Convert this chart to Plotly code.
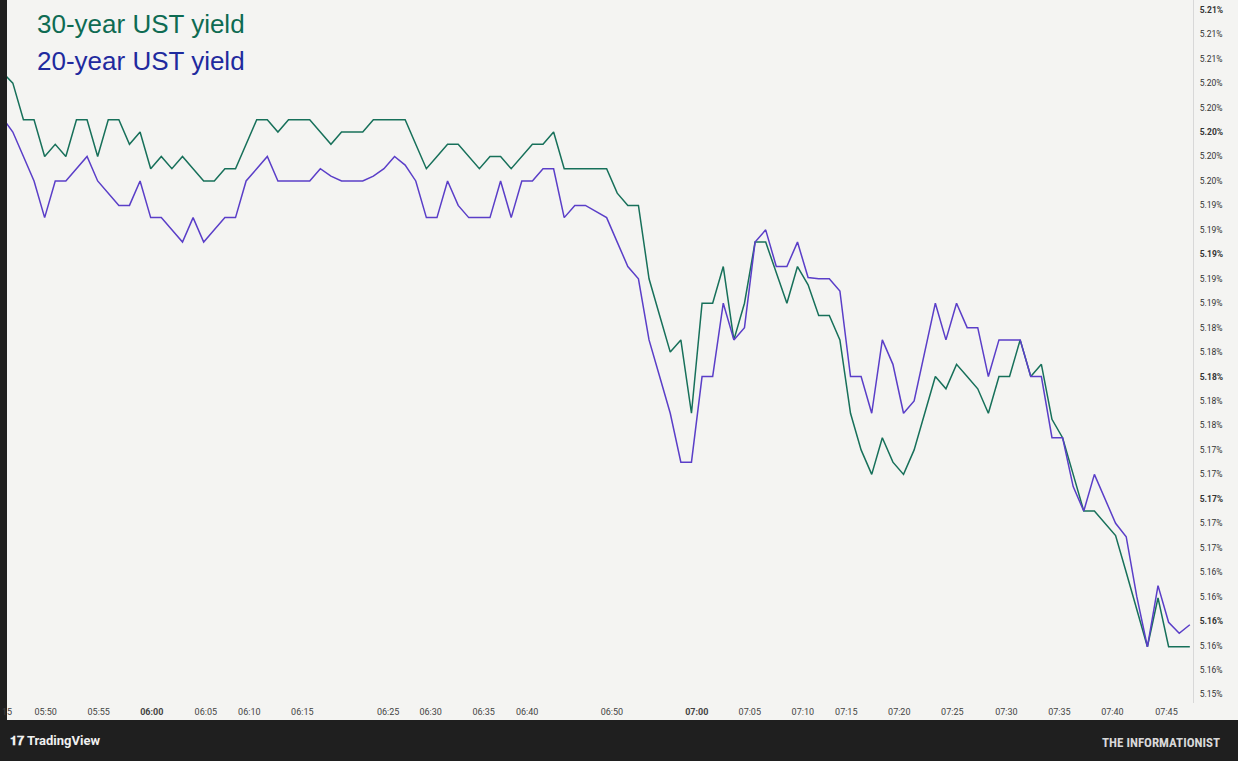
import plotly.graph_objects as go

bars = list(range(113))
ust30 = [5.2049,5.2040,5.2010,5.2010,5.1980,5.1990,5.1980,5.2010,5.2010,5.1980,
         5.2010,5.2010,5.1990,5.2000,5.1970,5.1980,5.1970,5.1980,5.1970,5.1960,
         5.1960,5.1970,5.1970,5.1990,5.2010,5.2010,5.2000,5.2010,5.2010,5.2010,
         5.2000,5.1990,5.2000,5.2000,5.2000,5.2010,5.2010,5.2010,5.2010,5.1990,
         5.1970,5.1980,5.1990,5.1990,5.1980,5.1970,5.1980,5.1980,5.1970,5.1980,
         5.1990,5.1990,5.2000,5.1970,5.1970,5.1970,5.1970,5.1970,5.1950,5.1940,
         5.1940,5.1880,5.1850,5.1820,5.1830,5.1770,5.1860,5.1860,5.1890,5.1830,
         5.1860,5.1910,5.1910,5.1885,5.1860,5.1890,5.1875,5.1850,5.1850,5.1830,
         5.1770,5.1740,5.1720,5.1750,5.1730,5.1720,5.1740,5.1770,5.1800,5.1790,
         5.1810,5.1800,5.1790,5.1770,5.1800,5.1800,5.1830,5.1800,5.1810,5.1765,
         5.1750,5.1720,5.1690,5.1690,5.1680,5.1670,5.1640,5.1609,5.1579,5.1619,
         5.1579,5.1579,5.1579]
ust20 = [5.2012,5.2000,5.1980,5.1960,5.1930,5.1960,5.1960,5.1970,5.1980,5.1960,
         5.1950,5.1940,5.1940,5.1960,5.1930,5.1930,5.1920,5.1910,5.1930,5.1910,
         5.1920,5.1930,5.1930,5.1960,5.1970,5.1980,5.1960,5.1960,5.1960,5.1960,
         5.1970,5.1964,5.1960,5.1960,5.1960,5.1964,5.1970,5.1980,5.1973,5.1960,
         5.1930,5.1930,5.1960,5.1940,5.1930,5.1930,5.1930,5.1960,5.1930,5.1960,
         5.1960,5.1970,5.1970,5.1930,5.1940,5.1940,5.1935,5.1930,5.1910,5.1890,
         5.1880,5.1830,5.1800,5.1770,5.1730,5.1730,5.1800,5.1800,5.1860,5.1830,
         5.1840,5.1910,5.1920,5.1890,5.1890,5.1910,5.1881,5.1880,5.1880,5.1870,
         5.1800,5.1800,5.1770,5.1830,5.1810,5.1770,5.1780,5.1820,5.1860,5.1830,
         5.1860,5.1840,5.1840,5.1800,5.1830,5.1830,5.1830,5.1800,5.1800,5.1750,
         5.1750,5.1710,5.1690,5.1720,5.1700,5.1680,5.1669,5.1620,5.1579,5.1629,
         5.1599,5.1590,5.1597]

x_tick_pos = [0.45,4.1,9.1,14.1,19.2,23.3,28.3,36.4,40.4,45.4,49.5,57.5,65.5,70.5,75.5,79.6,84.6,89.6,94.7,99.7,104.7,109.8]
x_tick_lbl = ["15","05:50","05:55","<b>06:00</b>","06:05","06:10","06:15","06:25","06:30","06:35","06:40",
              "06:50","<b>07:00</b>","07:05","07:10","07:15","07:20","07:25","07:30","07:35","07:40","07:45"]
y_tick_vals = [round(5.21 - 0.002*k, 3) for k in range(29)]
y_tick_lbl = [("<b>%.2f%%</b>" if k % 5 == 0 else "%.2f%%") % v for k, v in enumerate(y_tick_vals)]

GREEN = "#17705a"
PURPLE = "#5a3ec8"
BG = "#f4f4f2"
DARK = "#1f1f1f"

fig = go.Figure()
fig.add_trace(go.Scatter(x=bars, y=ust30, mode="lines", line=dict(color=GREEN, width=1.5), name="30-year UST yield"))
fig.add_trace(go.Scatter(x=bars, y=ust20, mode="lines", line=dict(color=PURPLE, width=1.5), name="20-year UST yield"))

W, H = 1238, 761
ml, mr, mt, mb = 7, 45, 0, 58
pw, ph = W - ml - mr, H - mt - mb

fig.update_layout(
    width=W, height=H, margin=dict(l=ml, r=mr, t=mt, b=mb),
    paper_bgcolor=DARK, plot_bgcolor=BG, showlegend=False,
    font=dict(family="Roboto, Arial", color="#333"),
    xaxis=dict(range=[0.45, 112.3], tickvals=x_tick_pos, ticktext=x_tick_lbl,
               showgrid=False, zeroline=False, ticks="", tickfont=dict(size=9, color="#444"),
               ticklabelstandoff=2),
    yaxis=dict(side="right", range=[5.1533, 5.2108], tickvals=y_tick_vals, ticktext=y_tick_lbl,
               showgrid=False, zeroline=False, ticks="", tickfont=dict(size=8.5, color="#333"),
               showline=True, linecolor="#d8d8d8", linewidth=1, ticklabelstandoff=4),
    shapes=[dict(type="rect", xref="paper", yref="paper", layer="below",
                 x0=0, x1=(W - ml) / pw, y0=-(720 - ph) / ph, y1=1,
                 fillcolor=BG, line=dict(width=0))],
    annotations=[
        dict(text="30-year UST yield", xref="paper", yref="paper", x=(35 - ml) / pw, y=1 - 24 / ph,
             xanchor="left", yanchor="middle", showarrow=False, font=dict(size=26, color="#0e6b52", family="Arial")),
        dict(text="20-year UST yield", xref="paper", yref="paper", x=(35 - ml) / pw, y=1 - 61 / ph,
             xanchor="left", yanchor="middle", showarrow=False, font=dict(size=26, color="#1f2a9e", family="Arial")),
        dict(text="<b>𝟏𝟕 TradingView</b>", xref="paper", yref="paper", x=(8 - ml) / pw, y=-(741 - ph) / ph,
             xanchor="left", yanchor="middle", showarrow=False, font=dict(size=13, color="#f0f0f0", family="Roboto")),
        dict(text="<b>THE INFORMATIONIST</b>", xref="paper", yref="paper", x=(1222 - ml) / pw, y=-(742 - ph) / ph,
             xanchor="right", yanchor="middle", showarrow=False, font=dict(size=13, color="#d8d8d8", family="Roboto Condensed, Roboto")),
    ],
)
fig.write_html("out.html", config={"displayModeBar": False},
               post_script="document.body.style.margin='0';document.body.style.background='#1f1f1f';")
